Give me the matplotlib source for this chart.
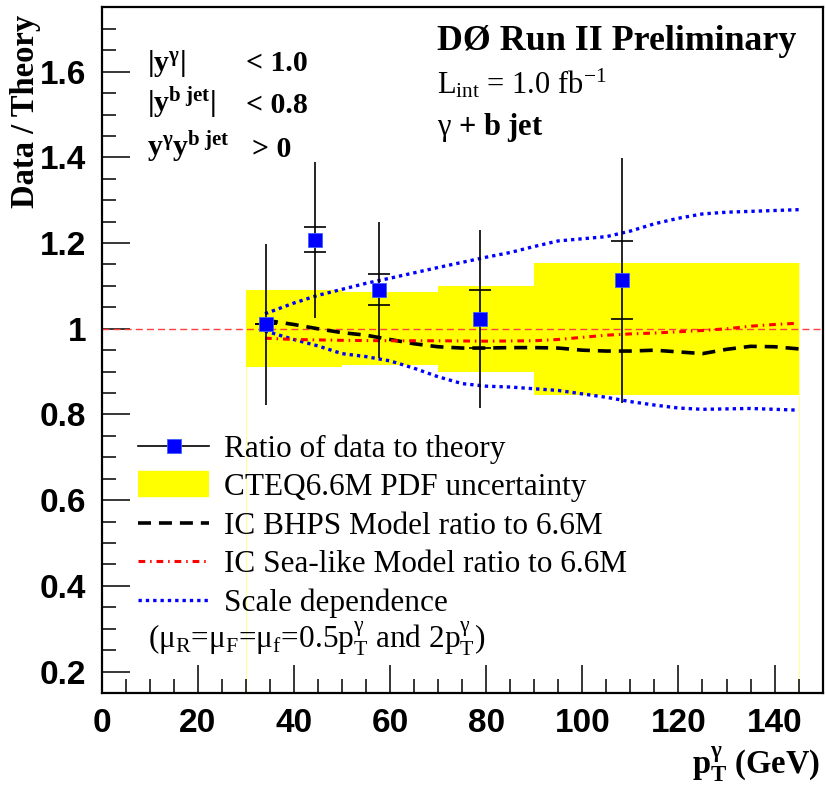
import matplotlib
matplotlib.use("Agg")
import matplotlib.pyplot as plt
from matplotlib.lines import Line2D
import numpy as np

plt.rcParams['mathtext.fontset'] = 'custom'
plt.rcParams['mathtext.rm'] = 'Liberation Serif'
plt.rcParams['mathtext.it'] = 'Liberation Serif:italic'
plt.rcParams['mathtext.bf'] = 'Liberation Serif:bold'

# data / theory points
pt = [34.2, 44.4, 57.8, 78.8, 108.2]
ratio = [1.010, 1.208, 1.091, 1.022, 1.113]
err_tot = [0.187, 0.182, 0.159, 0.208, 0.286]
err_stat = [0.0, 0.029, 0.036, 0.068, 0.091]

# CTEQ6.6M PDF uncertainty band
band_edges = [30, 50, 70, 90, 145]
band_hi = [1.090, 1.086, 1.100, 1.154]
band_lo = [0.911, 0.915, 0.899, 0.845]

# IC BHPS model
bhps_x = [34, 40, 45, 50, 55, 60, 65, 70, 75, 80, 85, 90, 95, 100, 105, 110, 115, 120, 125, 130, 135, 140, 145]
bhps_y = [1.020, 1.010, 1.000, 0.991, 0.985, 0.975, 0.965, 0.958, 0.955, 0.955, 0.956, 0.956, 0.955,
          0.950, 0.948, 0.948, 0.950, 0.946, 0.942, 0.952, 0.959, 0.958, 0.953]

# IC sea-like model
sea_x = [34, 40, 50, 60, 70, 80, 90, 95, 100, 105, 110, 115, 120, 125, 130, 135, 140, 145]
sea_y = [0.978, 0.975, 0.973, 0.972, 0.972, 0.971, 0.972, 0.975, 0.980, 0.985, 0.988, 0.990,
         0.993, 0.996, 1.000, 1.006, 1.010, 1.013]

# scale dependence
sc_hi_x = [34, 40, 45, 50, 55, 60, 70, 80, 85, 90, 95, 100, 105, 110, 115, 120, 125, 130, 135, 140, 145]
sc_hi_y = [1.035, 1.060, 1.078, 1.092, 1.106, 1.118, 1.143, 1.167, 1.178, 1.192, 1.205, 1.210,
           1.215, 1.228, 1.245, 1.258, 1.268, 1.272, 1.274, 1.276, 1.278]
sc_lo_x = [34, 40, 45, 50, 55, 60, 65, 70, 75, 80, 85, 90, 95, 100, 105, 110, 115, 120, 125, 130, 135, 140, 145]
sc_lo_y = [0.995, 0.975, 0.960, 0.942, 0.935, 0.925, 0.908, 0.888, 0.872, 0.866, 0.864, 0.860, 0.856,
           0.848, 0.840, 0.830, 0.822, 0.815, 0.812, 0.813, 0.814, 0.812, 0.810]

fig = plt.figure(figsize=(8.26, 7.88), dpi=100)
ax = fig.add_axes([0.1229, 0.1206, 0.8731, 0.870])

ax.stairs(band_hi, band_edges, baseline=band_lo, fill=True, color='#ffff00', lw=0, zorder=1)
ax.stairs(band_hi, band_edges, baseline=0, color='#ffffa0', lw=0.8, zorder=0.9)

ax.axhline(1.0, color='#ff4040', lw=1.0, dashes=(5, 3), zorder=2)

l_sc, = ax.plot(sc_hi_x, sc_hi_y, color='#0000ff', lw=2.4, dashes=(1, 1.2), zorder=3)
ax.plot(sc_lo_x, sc_lo_y, color='#0000ff', lw=2.4, dashes=(1, 1.2), zorder=3)
l_bh, = ax.plot(bhps_x, bhps_y, color='black', lw=2.6, dashes=(3.6, 2.2), zorder=3)
l_sea, = ax.plot(sea_x, sea_y, color='#ff0000', lw=2.2, dashes=(2.2, 1.6, 0.5, 1.6), zorder=3)

ax.errorbar(pt, ratio, yerr=err_tot, fmt='none', ecolor='black', elinewidth=1.2, capsize=0, zorder=4)
ax.errorbar(pt, ratio, yerr=err_stat, fmt='none', ecolor='black', elinewidth=0, capsize=8,
            capthick=1.2, zorder=4)
ax.plot(pt, ratio, 's', color='#0000ff', ms=10.5, mec='#4060ff', mew=0.6, zorder=5)

ax.set_xlim(0, 150)
ax.set_ylim(0.15, 1.75)
ax.set_xticks(np.arange(0, 141, 20))
ax.set_xticks(np.arange(0, 150, 5), minor=True)
ax.set_yticks(np.arange(0.2, 1.61, 0.2))
ax.set_yticks(np.arange(0.15, 1.751, 0.05), minor=True)
ax.set_yticklabels(['0.2', '0.4', '0.6', '0.8', '1', '1.2', '1.4', '1.6'])
ax.tick_params(which='both', direction='in', top=False, right=False, width=1.1)
ax.tick_params(which='major', length=20)
ax.tick_params(which='minor', length=10)
ax.tick_params(axis='y', pad=11)
ax.tick_params(axis='x', pad=11)
for lab in ax.get_yticklabels():
    lab.set_fontfamily('Liberation Sans')
    lab.set_fontweight('bold')
    lab.set_fontsize(24)
for lab in ax.get_xticklabels():
    lab.set_fontfamily('Liberation Sans')
    lab.set_fontweight('bold')
    lab.set_fontsize(24)
for sp in ax.spines.values():
    sp.set_linewidth(1.6)

ax.text(-0.105, 1.0 - 0.011, 'Data / Theory', transform=ax.transAxes, rotation=90,
        ha='center', va='top', family='Liberation Serif', weight='bold', fontsize=23.5)
fig.text(0.993, 0.018, r'$\mathbf{p_T^{γ}}$ (GeV)', ha='right', va='baseline',
         family='Liberation Serif', weight='bold', fontsize=23.5)

# cuts
ser = dict(family='Liberation Serif', weight='bold', fontsize=21.5)
fig.text(147 / 826, 1 - 71 / 788, r'$\mathbf{|y^{γ}|}$', ha='left', va='baseline', **ser)
fig.text(246 / 826, 1 - 71 / 788, '< 1.0', ha='left', va='baseline', **ser)
fig.text(147 / 826, 1 - 113 / 788, r'$\mathbf{|y^{b\ jet}|}$', ha='left', va='baseline', **ser)
fig.text(246 / 826, 1 - 113 / 788, '< 0.8', ha='left', va='baseline', **ser)
fig.text(147 / 826, 1 - 157 / 788, r'$\mathbf{y^{γ}y^{b\ jet}}$', ha='left', va='baseline', **ser)
fig.text(252 / 826, 1 - 157 / 788, '> 0', ha='left', va='baseline', **ser)

fig.text(437 / 826, 1 - 50 / 788, 'DØ Run II Preliminary', ha='left', va='baseline',
         family='Liberation Serif', weight='bold', fontsize=25.8)
fig.text(437 / 826, 1 - 93 / 788, r'L$_{\mathrm{int}}$ = 1.0 fb$^{\mathrm{-1}}$', ha='left', va='baseline',
         family='Liberation Serif', fontsize=22)
fig.text(437 / 826, 1 - 135 / 788, r'$\mathrm{γ}$ + b jet', ha='left', va='baseline',
         family='Liberation Serif', weight='bold', fontsize=22)

h_data = Line2D([], [], color='black', lw=1.2, marker='s', ms=10.5, mfc='#0000ff', mec='#4060ff', mew=0.6)
h_band = Line2D([], [], color='#ffff00', lw=19, solid_capstyle='butt')
leg = ax.legend([h_data, h_band, l_bh, l_sea, l_sc],
                ['Ratio of data to theory', 'CTEQ6.6M PDF uncertainty', 'IC BHPS Model ratio to 6.6M',
                 'IC Sea-like Model ratio to 6.6M', 'Scale dependence'],
                loc='upper left', bbox_to_anchor=(0.05, 0.377), frameon=False, borderpad=0,
                borderaxespad=0, handlelength=2.3, handletextpad=0.45, labelspacing=0.3,
                prop={'family': 'Liberation Serif', 'size': 22.5})
leg.set_zorder(6)
fig.text(148 / 826, 1 - 648 / 788,
         r'($\mathrm{μ_R}$=$\mathrm{μ_F}$=$\mathrm{μ_f}$=0.5$\mathrm{p_T^{γ}}$ and 2$\mathrm{p_T^{γ}}$)',
         ha='left', va='baseline', family='Liberation Serif', fontsize=22.5)

fig.savefig('out.png', dpi=100)
